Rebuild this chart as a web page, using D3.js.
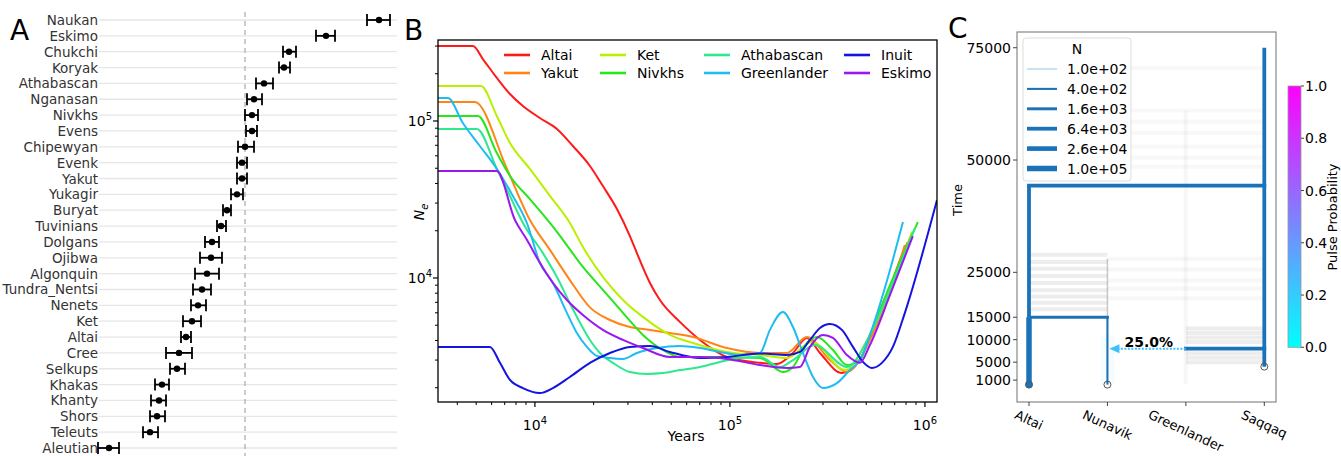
<!DOCTYPE html>
<html>
<head>
<meta charset="utf-8">
<script src="https://cdn.jsdelivr.net/npm/d3@7"></script>
<style>
body { margin: 0; background: #fff; }
text { font-family: "DejaVu Sans", sans-serif; }
</style>
</head>
<body>
<script>
// ---------- panel A : statistic per population (arbitrary units, 0 = dashed line)
var popsA = ["Naukan","Eskimo","Chukchi","Koryak","Athabascan","Nganasan","Nivkhs","Evens","Chipewyan","Evenk","Yakut","Yukagir","Buryat","Tuvinians","Dolgans","Ojibwa","Algonquin","Tundra_Nentsi","Nenets","Ket","Altai","Cree","Selkups","Khakas","Khanty","Shors","Teleuts","Aleutian"];
var valA = [1.34,0.81,0.44,0.39,0.19,0.09,0.07,0.07,0.00,-0.03,-0.03,-0.08,-0.18,-0.24,-0.33,-0.34,-0.38,-0.43,-0.47,-0.53,-0.59,-0.66,-0.68,-0.83,-0.86,-0.88,-0.95,-1.36];
var loA  = [1.22,0.71,0.38,0.34,0.11,0.02,0.00,0.01,-0.07,-0.08,-0.08,-0.14,-0.22,-0.28,-0.40,-0.45,-0.50,-0.52,-0.54,-0.62,-0.64,-0.79,-0.75,-0.90,-0.94,-0.95,-1.02,-1.47];
var hiA  = [1.45,0.90,0.51,0.45,0.28,0.17,0.13,0.12,0.09,0.02,0.02,-0.02,-0.14,-0.19,-0.26,-0.23,-0.26,-0.34,-0.39,-0.44,-0.54,-0.53,-0.60,-0.76,-0.79,-0.80,-0.87,-1.26];

// ---------- panel B : Ne through time, [years, Ne]
var popsB = ["Altai","Yakut","Ket","Nivkhs","Athabascan","Greenlander","Inuit","Eskimo"];
var neAltai = [[3185,300000],[4810,300000],[5410,248000],[6380,188000],[7450,148600],[8680,124600],[10600,104500],[12970,88900],[15660,69300],[19150,51700],[22320,38500],[26340,27500],[30700,18500],[33350,14400],[38900,9300],[43750,7240],[55400,5250],[70200,4030],[96500,3140],[142500,2880],[174000,2830],[210500,3330],[248000,4150],[289500,3330],[375000,2480],[464000,3000],[541000,4670],[638000,7570],[745000,13000],[818000,16950]];
var neYakut = [[3185,132000],[4920,132000],[7190,49500],[9430,23400],[11940,15100],[15110,9700],[19150,6500],[24260,5400],[30700,4870],[38900,4670],[49230,4460],[64600,4210],[96500,3580],[142500,3330],[196000,3330],[248000,4210],[325800,3000],[398000,2520],[522000,4030],[662000,8400],[789000,16200]];
var neKet = [[3185,167000],[5290,167000],[6380,107600],[7450,72400],[9430,49500],[11940,33300],[15110,22400],[17630,15750],[22320,10150],[28270,7240],[35800,5650],[49230,4340],[64600,3850],[96500,3380],[142500,3230],[196000,3090],[263400,3910],[389000,2590],[522000,4340],[662000,8400],[857000,19600]];
var neNivkhs = [[3185,107600],[5100,107600],[6380,62500],[7450,44600],[9430,31800],[11940,22400],[13920,17500],[17630,11750],[22320,8400],[28270,6000],[35800,4340],[45300,3480],[55400,3140],[78900,3140],[142500,3090],[187000,2520],[210500,2710],[248000,3850],[279300,4210],[337500,3480],[398000,2790],[464000,3000],[522000,4340],[662000,9000],[920000,22700]];
var neAthabascan = [[3185,88900],[5040,88900],[6380,49500],[7450,33300],[8680,22400],[10990,14400],[12970,10150],[15110,6900],[17010,5200],[19150,4030],[21540,3330],[25120,2880],[30700,2520],[37530,2450],[45300,2480],[55400,2590],[70200,2710],[88900,2920],[112600,3090],[142500,3140],[180500,2710],[210500,3000],[272900,3740],[398000,2710],[522000,4340],[662000,8400],[889000,20800]];
var neGreenlander = [[3185,140000],[3580,140000],[4270,97100],[5220,69300],[6380,49500],[7710,33300],[9100,22400],[10600,12500],[12370,9300],[14590,6000],[16420,4460],[18480,3640],[20800,3190],[24260,3090],[28270,3050],[33350,3330],[42240,3580],[55400,3690],[70200,3580],[88900,3380],[112600,3230],[142500,3330],[160400,4670],[187000,6070],[210500,4870],[236700,3330],[266700,2340],[299900,1990],[353700,2140],[412300,2590],[464000,3000],[554400,5400],[662000,11250],[771000,22700]];
var neInuit = [[3185,3640],[5880,3640],[6620,2880],[7450,2240],[8680,1990],[10600,1850],[12370,1990],[15110,2340],[19150,2880],[24260,3330],[30700,3640],[38900,3690],[49230,3380],[70200,3090],[96500,3140],[142500,3300],[196000,3230],[228600,3380],[257200,4030],[289500,4800],[325800,5090],[375000,4670],[427400,3640],[480800,2920],[535000,2670],[601700,2880],[685000,3640],[789000,6000],[1153000,31400]];
var neEskimo = [[3185,48000],[6380,48000],[7900,23400],[9100,17500],[10600,12500],[12370,9300],[14590,7240],[17630,5810],[22320,4670],[28270,4030],[35800,3580],[49230,3140],[70200,3140],[96500,3050],[142500,2790],[196000,2670],[228600,2710],[257200,3640],[299900,4340],[337500,4150],[398000,3230],[464000,2880],[522000,3740],[662000,7800],[867000,18500]];
var curvesB = [neAltai, neYakut, neKet, neNivkhs, neAthabascan, neGreenlander, neInuit, neEskimo];
var colorsB = ["#ff1a1a","#ff8516","#b8f000","#28e51c","#2ee88f","#1ebcf0","#1414e0","#9a18f0"];

// ---------- panel C : admixture graph
var demes = ["Altai","Nunavik","Greenlander","Saqqaq"];
var timeTicks = [1000,5000,10000,15000,25000,50000,75000];
var legendN = [1e2,4e2,1.6e3,6.4e3,2.6e4,1e5];
var probTicks = [0,0.2,0.4,0.6,0.8,1.0];
// [deme, t0, t1, N]
var vBranches = [["Altai",0,15000,1e5],["Altai",15000,44300,6.4e3],["Nunavik",0,15000,4e2],["Saqqaq",4000,75000,6.4e3]];
// [from, to, t, N]
var hBranches = [["Altai","Saqqaq",44300,6.4e3],["Altai","Nunavik",15000,1.6e3],["Greenlander","Saqqaq",8000,6.4e3]];
// [source, target, t, probability]
var pulses = [["Greenlander","Nunavik",8000,0.25]];
// [deme, t, filled]
var samplesC = [["Altai",0,1],["Nunavik",0,0],["Saqqaq",4000,0]];
// faint posterior samples of split times
var bandsAN = [16800,18200,19600,21000,22600,24200,25800,27300,28900];
var bandsNS = [19200,21400,23200,25600,28000];
var bandsGS = [5000,6000,7000,9500,10500,11500,12500];
var bandsTop = [48500,50500,53000,56000,58500,61000,70500];

var svg = d3.select("body").append("svg").attr("width", 1341).attr("height", 456);

// =================== A
var xA = d3.scaleLinear().domain([-1.5, 1.5]).range([95, 395]);
var yA = d3.scalePoint().domain(popsA).range([20, 448]);
var gA = svg.append("g");
gA.append("text").attr("x", 10).attr("y", 40).attr("font-size", 28).attr("font-family", "Liberation Sans").text("A");
gA.selectAll(".grid").data(popsA).enter().append("line")
    .attr("x1", 99).attr("x2", 397).attr("y1", d => yA(d)).attr("y2", d => yA(d))
    .attr("stroke", "#e6e6e6").attr("stroke-width", 1.3);
gA.append("line").attr("x1", xA(0)).attr("x2", xA(0)).attr("y1", 12).attr("y2", 456)
    .attr("stroke", "#aaa").attr("stroke-width", 1.2).attr("stroke-dasharray", "5,4");
gA.selectAll(".lab").data(popsA).enter().append("text")
    .attr("x", 98).attr("y", d => yA(d) + 5).attr("text-anchor", "end")
    .attr("font-size", 13.5).attr("font-family", "Liberation Sans").attr("fill", "#333").text(d => d);
popsA.forEach(function(p, i) {
    var y = yA(p);
    gA.append("line").attr("x1", xA(loA[i])).attr("x2", xA(hiA[i])).attr("y1", y).attr("y2", y).attr("stroke", "#000").attr("stroke-width", 1.8);
    [loA[i], hiA[i]].forEach(function(v) {
        gA.append("line").attr("x1", xA(v)).attr("x2", xA(v)).attr("y1", y - 6).attr("y2", y + 6).attr("stroke", "#000").attr("stroke-width", 1.8);
    });
    gA.append("circle").attr("cx", xA(valA[i])).attr("cy", y).attr("r", 3.2).attr("fill", "#000");
});

// =================== B
var xB = d3.scaleLog().domain([3185, 1153000]).range([438, 937]);
var yB = d3.scaleLog().domain([1622, 328000]).range([402, 40]);
var gB = svg.append("g");
gB.append("text").attr("x", 404).attr("y", 40).attr("font-size", 28).text("B");
svg.append("clipPath").attr("id", "clipB").append("rect").attr("x", 438).attr("y", 40).attr("width", 499).attr("height", 362);

var lineB = d3.line().x(d => xB(d[0])).y(d => yB(d[1])).curve(d3.curveMonotoneX);
curvesB.forEach(function(c, i) {
    gB.append("path").attr("d", lineB(c)).attr("fill", "none").attr("stroke", colorsB[i])
        .attr("stroke-width", 2).attr("clip-path", "url(#clipB)");
});
gB.append("rect").attr("x", 438).attr("y", 40).attr("width", 499).attr("height", 362)
    .attr("fill", "none").attr("stroke", "#000").attr("stroke-width", 1.3);

// ticks
var xMinor = [], yMinor = [];
[1e3, 1e4, 1e5].forEach(function(b) { for (var k = 2; k < 10; k++) xMinor.push(k * b); });
[1e3, 1e4, 1e5].forEach(function(b) { for (var k = 2; k < 10; k++) yMinor.push(k * b); });
xMinor = xMinor.filter(v => v > 3185 && v < 1153000);
yMinor = yMinor.filter(v => v > 1622 && v < 328000);
gB.selectAll(".xmin").data(xMinor).enter().append("line")
    .attr("x1", d => xB(d)).attr("x2", d => xB(d)).attr("y1", 402).attr("y2", 405).attr("stroke", "#000");
gB.selectAll(".ymin").data(yMinor).enter().append("line")
    .attr("x1", 435).attr("x2", 438).attr("y1", d => yB(d)).attr("y2", d => yB(d)).attr("stroke", "#000");
[4, 5, 6].forEach(function(e) {
    var x = xB(Math.pow(10, e));
    gB.append("line").attr("x1", x).attr("x2", x).attr("y1", 402).attr("y2", 407).attr("stroke", "#000").attr("stroke-width", 1.2);
    var t = gB.append("text").attr("x", x).attr("y", 430).attr("text-anchor", "middle").attr("font-size", 14);
    t.append("tspan").text("10");
    t.append("tspan").attr("dy", -6).attr("font-size", 10).text(e);
});
[4, 5].forEach(function(e) {
    var y = yB(Math.pow(10, e));
    gB.append("line").attr("x1", 433).attr("x2", 438).attr("y1", y).attr("y2", y).attr("stroke", "#000").attr("stroke-width", 1.2);
    var t = gB.append("text").attr("x", 432).attr("y", y + 5).attr("text-anchor", "end").attr("font-size", 14);
    t.append("tspan").text("10");
    t.append("tspan").attr("dy", -6).attr("font-size", 10).text(e);
});
gB.append("text").attr("x", 686).attr("y", 441).attr("text-anchor", "middle").attr("font-size", 14).text("Years");
var ne = gB.append("text").attr("transform", "translate(424,212) rotate(-90)").attr("text-anchor", "middle").attr("font-size", 14);
ne.append("tspan").attr("font-style", "italic").text("N");
ne.append("tspan").attr("dy", 4).attr("font-size", 10).attr("font-style", "italic").text("e");

// legend
popsB.forEach(function(p, i) {
    var col = Math.floor(i / 2), row = i % 2;
    var lx = [504, 600, 704, 844][col], ly = 55 + row * 18;
    gB.append("line").attr("x1", lx).attr("x2", lx + 26).attr("y1", ly).attr("y2", ly)
        .attr("stroke", colorsB[i]).attr("stroke-width", 2.6);
    gB.append("text").attr("x", lx + 37).attr("y", ly + 5).attr("font-size", 14).text(p);
});

// =================== C
var xC = d3.scalePoint().domain(demes).range([1029, 1264.3]);
var yC = d3.scaleLinear().domain([-3870, 78500]).range([402, 32]);
var wN = d3.scaleLog().domain([1e2, 1e5]).range([1.2, 5.5]);
var blue = "#1a73b8";
var gC = svg.append("g");
gC.append("text").attr("x", 948).attr("y", 38).attr("font-size", 28).text("C");

// faint posterior bands
function bands(times, a, b, op, w) {
    gC.selectAll(null).data(times).enter().append("line")
        .attr("x1", xC(a)).attr("x2", xC(b)).attr("y1", d => yC(d)).attr("y2", d => yC(d))
        .attr("stroke", "#777").attr("stroke-opacity", op).attr("stroke-width", w);
}
bands(bandsTop, "Altai", "Saqqaq", 0.05, 4);
bands(bandsAN, "Altai", "Nunavik", 0.13, 4);
bands(bandsNS, "Nunavik", "Saqqaq", 0.06, 4);
bands(bandsGS, "Greenlander", "Saqqaq", 0.13, 4);
gC.append("line").attr("x1", xC("Greenlander")).attr("x2", xC("Greenlander")).attr("y1", yC(0)).attr("y2", yC(61000))
    .attr("stroke", "#777").attr("stroke-opacity", 0.06).attr("stroke-width", 4);
gC.append("line").attr("x1", xC("Nunavik")).attr("x2", xC("Nunavik")).attr("y1", yC(15000)).attr("y2", yC(28000))
    .attr("stroke", "#777").attr("stroke-opacity", 0.4).attr("stroke-width", 1.5);
gC.append("rect").attr("x", xC("Nunavik") - 7).attr("y", yC(11000)).attr("width", 14).attr("height", yC(0) - yC(11000))
    .attr("fill", "#a8def5").attr("opacity", 0.1);

// tree
vBranches.forEach(function(b) {
    gC.append("line").attr("x1", xC(b[0])).attr("x2", xC(b[0])).attr("y1", yC(b[1])).attr("y2", yC(b[2]))
        .attr("stroke", blue).attr("stroke-width", wN(b[3]));
});
hBranches.forEach(function(b) {
    gC.append("line").attr("x1", xC(b[0])).attr("x2", xC(b[1])).attr("y1", yC(b[2])).attr("y2", yC(b[2]))
        .attr("stroke", blue).attr("stroke-width", wN(b[3])).attr("stroke-linecap", "square");
});

// pulse arrow
var cool = d3.interpolateRgb("#00ffff", "#ff00ff");
pulses.forEach(function(p) {
    var x0 = xC(p[0]), x1 = xC(p[1]) + 2, y = yC(p[2]);
    var c = cool(p[3]);
    gC.append("line").attr("x1", x0).attr("x2", x1 + 9).attr("y1", y).attr("y2", y)
        .attr("stroke", c).attr("stroke-width", 2).attr("stroke-dasharray", "2,1.5");
    gC.append("path").attr("d", "M" + x1 + "," + y + "L" + (x1 + 10) + "," + (y - 4.5) + "L" + (x1 + 10) + "," + (y + 4.5) + "Z").attr("fill", c);
    gC.append("text").attr("x", x1 + 15).attr("y", y - 2).attr("font-size", 14).attr("font-weight", "bold").text(d3.format(".1%")(p[3]));
});

samplesC.forEach(function(s) {
    gC.append("circle").attr("cx", xC(s[0])).attr("cy", yC(s[1])).attr("r", 3.5)
        .attr("fill", s[2] ? blue : "none").attr("stroke", "#555").attr("stroke-width", 1);
});

// frame + axes
gC.append("rect").attr("x", 1017).attr("y", 32).attr("width", 259).attr("height", 370)
    .attr("fill", "none").attr("stroke", "#888").attr("stroke-width", 1.2);
timeTicks.forEach(function(t) {
    var y = yC(t);
    gC.append("line").attr("x1", 1013).attr("x2", 1017).attr("y1", y).attr("y2", y).attr("stroke", "#444");
    gC.append("text").attr("x", 1011).attr("y", y + 5).attr("text-anchor", "end").attr("font-size", 14).text(t);
});
gC.append("text").attr("transform", "translate(962,200) rotate(-90)").attr("text-anchor", "middle").attr("font-size", 13).text("Time");
demes.forEach(function(d) {
    var x = xC(d);
    gC.append("line").attr("x1", x).attr("x2", x).attr("y1", 402).attr("y2", 406).attr("stroke", "#444");
    var t = gC.append("text").attr("text-anchor", "middle").attr("font-size", 13).text(d);
    var w = t.node().getComputedTextLength();
    var yc = 408 + (w * 0.42 + 13 * 0.9) / 2;
    t.attr("transform", "translate(" + (x - 1.9) + "," + (yc + 4.1) + ") rotate(25)");
});

// legend N
var lg = gC.append("g");
lg.append("rect").attr("x", 1023).attr("y", 38).attr("width", 108).attr("height", 143).attr("rx", 3)
    .attr("fill", "#fff").attr("fill-opacity", 0.85).attr("stroke", "#ddd");
lg.append("text").attr("x", 1077).attr("y", 54).attr("text-anchor", "middle").attr("font-size", 14).text("N");
legendN.forEach(function(n, i) {
    var y = 69 + i * 19.9;
    lg.append("line").attr("x1", 1027).attr("x2", 1057).attr("y1", y).attr("y2", y)
        .attr("stroke", i == 0 ? "#9fcfec" : blue).attr("stroke-width", wN(n));
    lg.append("text").attr("x", 1067).attr("y", y + 5).attr("font-size", 14).text(d3.format(".1e")(n).replace("e+", "e+0"));
});

// colorbar
var cb = d3.scaleLinear().domain([0, 1]).range([347.3, 86]);
var grad = svg.append("defs").append("linearGradient").attr("id", "cool").attr("x1", 0).attr("y1", 1).attr("x2", 0).attr("y2", 0);
grad.append("stop").attr("offset", "0%").attr("stop-color", "#00ffff");
grad.append("stop").attr("offset", "100%").attr("stop-color", "#ff00ff");
gC.append("rect").attr("x", 1288).attr("y", cb(1)).attr("width", 13).attr("height", cb(0) - cb(1))
    .attr("fill", "url(#cool)").attr("stroke", "#999").attr("stroke-width", 0.8);
probTicks.forEach(function(v) {
    gC.append("line").attr("x1", 1301).attr("x2", 1304).attr("y1", cb(v)).attr("y2", cb(v)).attr("stroke", "#444");
    gC.append("text").attr("x", 1305).attr("y", cb(v) + 5).attr("font-size", 14).text(v.toFixed(1));
});
gC.append("text").attr("transform", "translate(1337,217) rotate(-90)").attr("text-anchor", "middle").attr("font-size", 13).text("Pulse Probability");
</script>
</body>
</html>
